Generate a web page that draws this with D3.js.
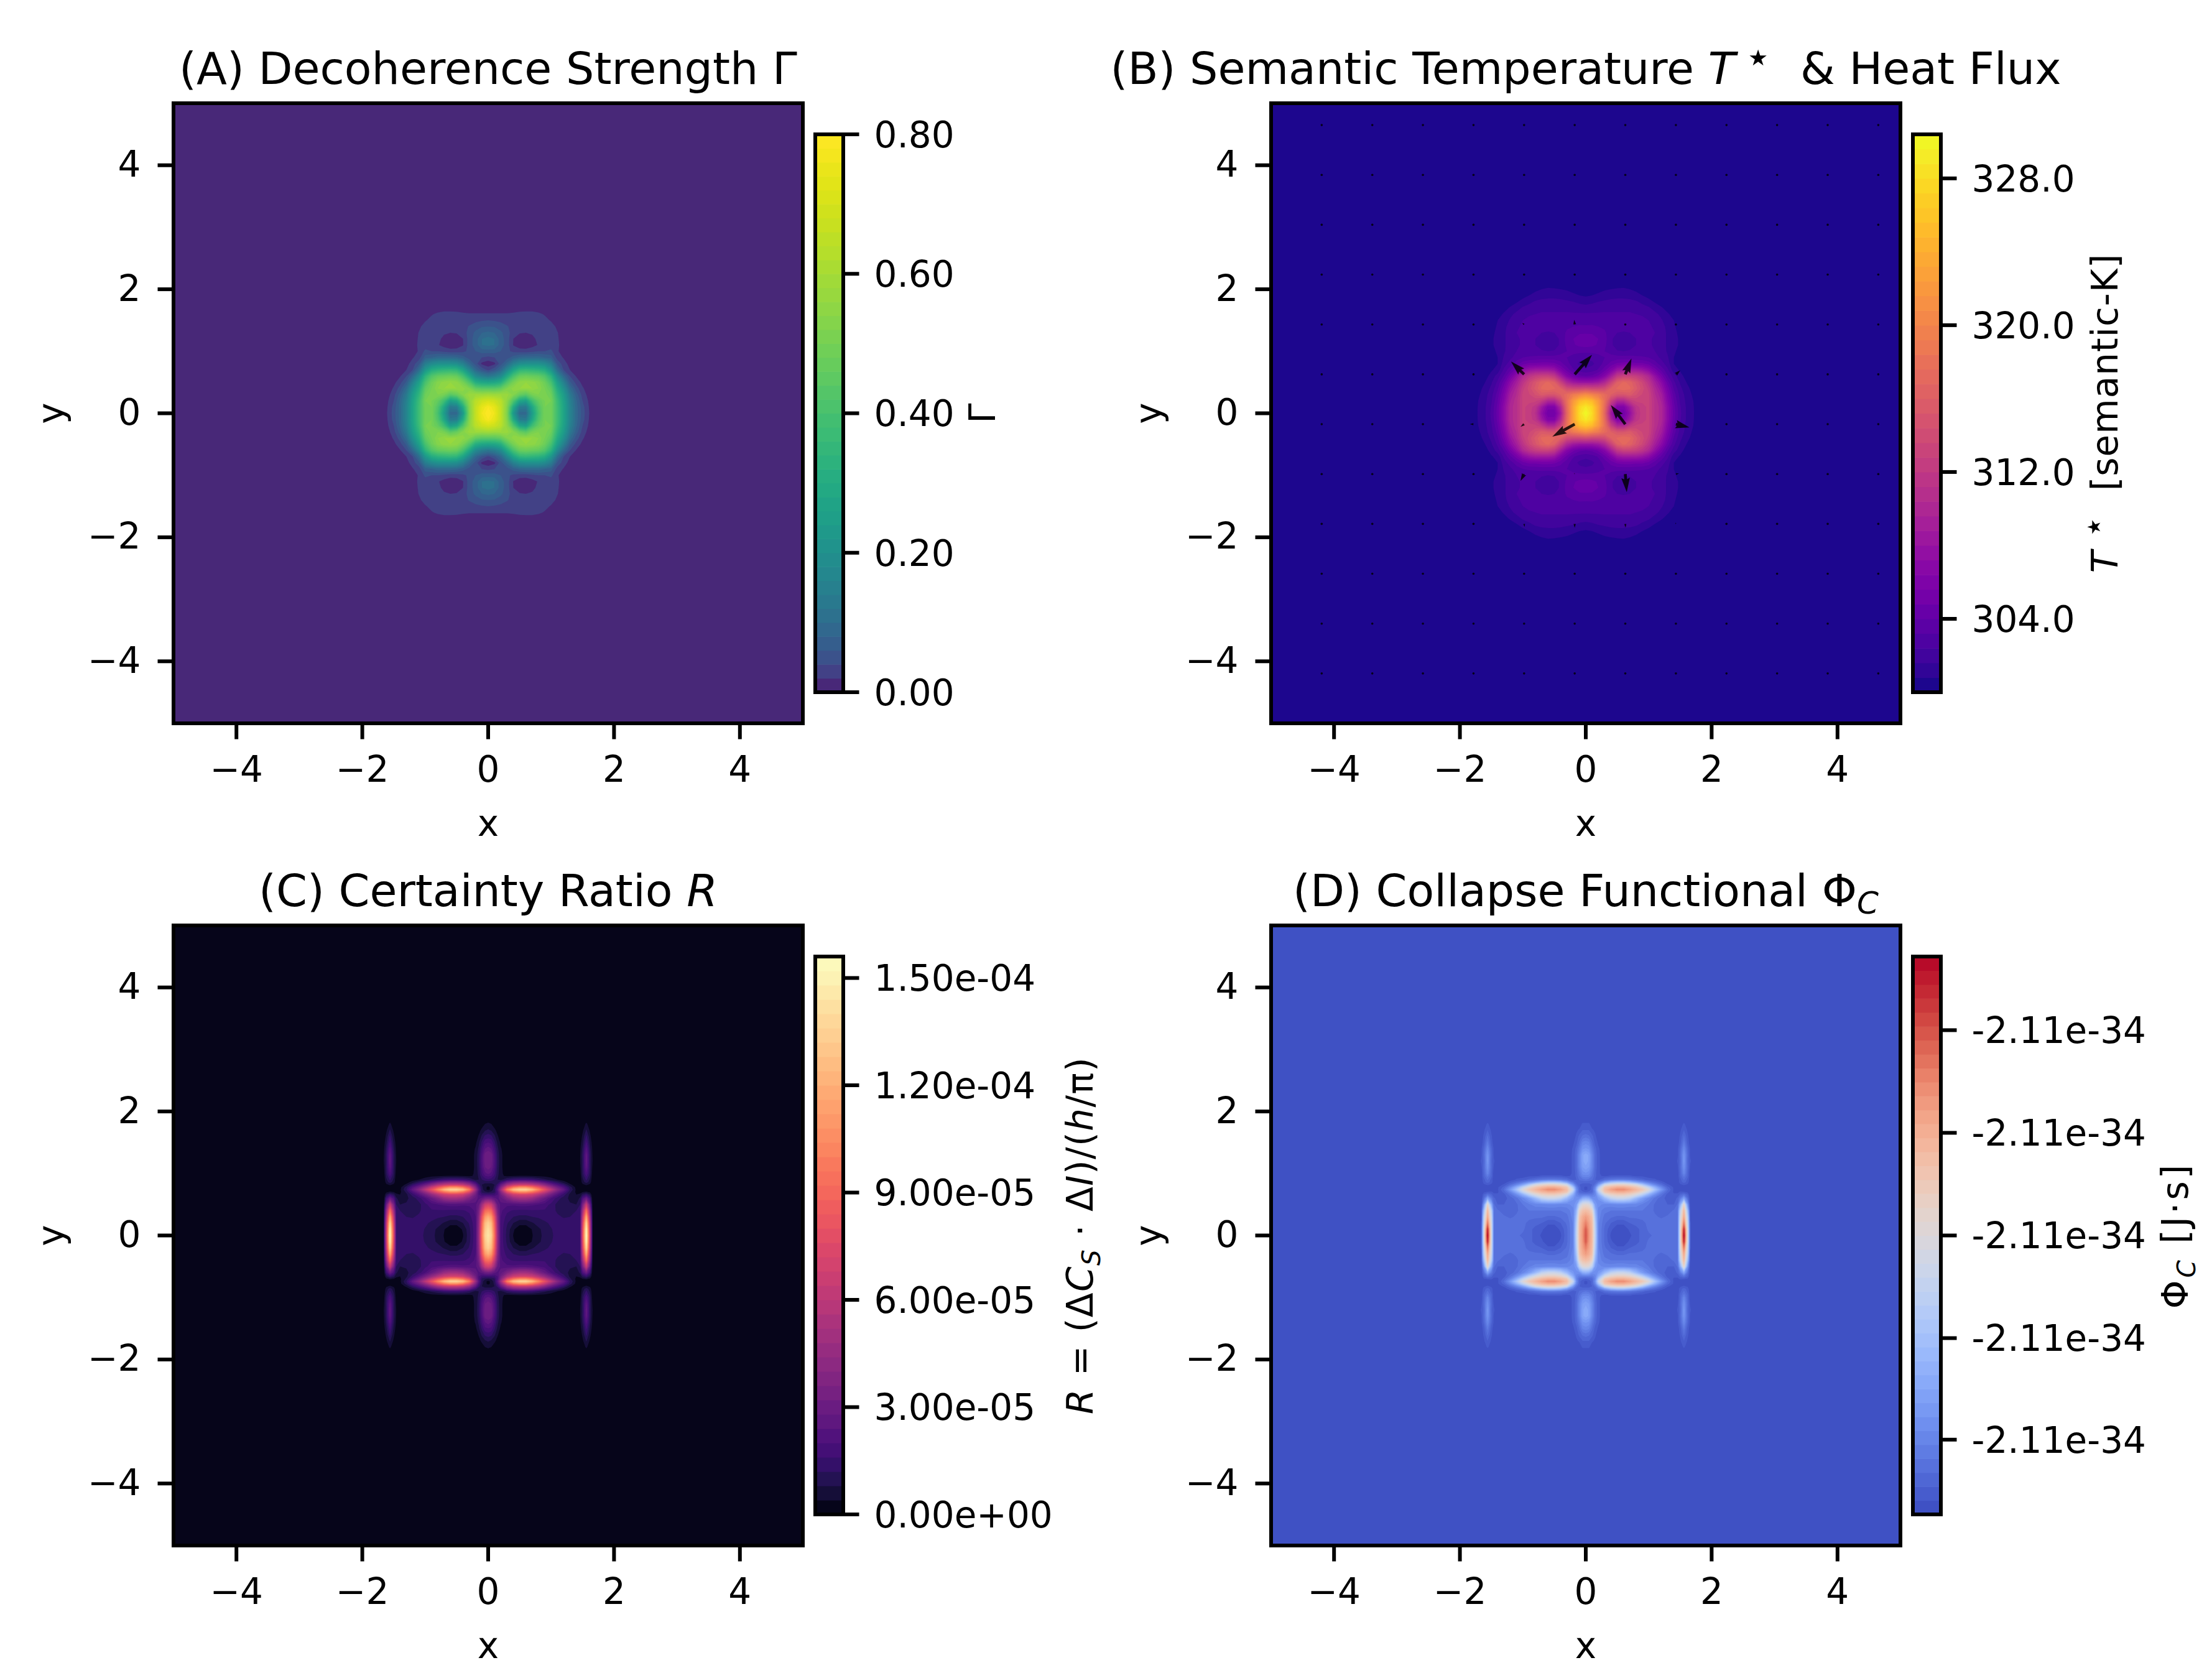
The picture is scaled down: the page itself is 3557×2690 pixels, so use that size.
<!DOCTYPE html>
<html>
<head>
<meta charset="utf-8">
<script src="https://cdn.jsdelivr.net/npm/d3@7"></script>
<style>
body { margin: 0; background: #fff; }
text { font-family: "DejaVu Sans"; fill: #000; }
</style>
</head>
<body>
<script>
"use strict";
// all four maps are symmetric about both axes, so only the quadrant x>=0, y>=0 is listed

// Gamma x 100, one list per x node, y nodes 0, 0.1 ... (short lists end in zeros)
var gammaX = [0, .1, .2, .3, .4, .5, .6, .7, .8, .9, 1, 1.1, 1.2, 1.3, 1.4, 1.5, 1.6, 1.7, 1.8];
var gammaY = [0, .1, .2, .3, .4, .5, .6, .7, .8, .9, 1, 1.1, 1.2, 1.3, 1.4, 1.5, 1.6, 1.7, 1.8];
var gammaColumns = [
    [80, 78, 70, 59, 44, 27, 12, 3.5, .6, 3.5, 7, 10.5, 10.8, 8.5, 6, 4, 2.2, .5],
    [76, 74, 68, 58, 44, 28, 14, 5.5, 1.5, 4, 7, 10, 10, 8, 5.8, 3.8, 2.2, .5],
    [66, 66, 64, 58, 46, 31, 18, 9, 5, 5, 6, 7, 7, 6.5, 5, 3.5, 2.2, .5],
    [52, 53, 55, 57, 52, 42, 29, 17, 9, 5, 4.5, 5, 5, 4.8, 4.2, 3, 2.2, .4],
    [23, 30, 42, 53, 55, 50, 40, 27, 15, 7, 3.5, 1.9, 2, 3, 3.2, 3, 2.4, .6],
    [9, 14, 28, 47, 56, 55, 47, 34, 19, 8.5, 3, .8, .8, 2.2, 3, 3, 2.6, 1],
    [9, 13, 25, 44, 56, 56, 48, 35, 20, 9, 3, .6, .6, 2, 3, 3, 2.6, 1.2],
    [24, 28, 38, 50, 56, 55, 47, 34, 20, 9, 3.5, 1.2, 1.2, 2.4, 3, 3, 2.6, 1.2],
    [40, 42, 46, 52, 54, 53, 46, 33, 20, 9, 4, 2.2, 2.8, 3, 3, 2.8, 2.4, .8],
    [50, 50, 50, 51, 50, 48, 42, 30, 18, 8, 4, 3, 3, 3, 3, 2.6, 1.8, .4],
    [49, 49, 50, 48, 45, 40, 33, 22, 14, 7, 4.5, 3, 3, 3, 2.8, 1.8, .5],
    [38, 38, 37, 34, 30, 25, 18, 10, 5.5, 3, 2.2, 2.2, 2.2, 2.1, 1.6, .6],
    [27, 27, 26, 24, 20, 15, 9, 4, 3, 1.8, 1.2, 1.5, 1.2, 1, .5],
    [16, 16, 15, 13, 10, 6.5, 4, 2, 1.2, 1, .6, .5],
    [9, 9, 8.5, 7, 5, 3.2, 1.8, 1, .5],
    [5, 4.8, 4, 3.2, 2.3, 1.4, .7, .3],
    [2.1, 2, 1.7, 1.2, .8, .4],
    [.5, .4, .2],
    []
];
var gammaTicks = [0, 20, 40, 60, 80];

// T* - 300 K, one list per x node
var tempX = [0, .1, .2, .3, .4, .5, .6, .7, .8, .9, 1, 1.1, 1.2, 1.3, 1.4, 1.5, 1.6, 1.7, 1.8, 1.9];
var tempY = [0, .1, .2, .3, .4, .5, .6, .7, .8, .9, 1, 1.1, 1.2, 1.3, 1.4, 1.5, 1.6, 1.7, 1.8, 1.9, 2, 2.1];
var tempColumns = [
    [30.4, 29, 26, 21, 14, 8, 4, 2.6, 2, 2.6, 3.4, 4.3, 4.5, 3.9, 3.3, 2.8, 2.5, 1.9, 1.3, .7, .2],
    [28, 27.5, 25, 20, 13.5, 8, 4.2, 2.8, 2.2, 2.7, 3.4, 4.2, 4.4, 3.9, 3.3, 2.9, 2.5, 2, 1.4, .8, .3],
    [23, 23, 22, 19, 13.5, 8.5, 5, 3.3, 2.8, 3, 3.4, 3.9, 4, 3.6, 3.2, 2.9, 2.5, 2.1, 1.6, 1, .5, .1],
    [17, 17.5, 18, 17.5, 14, 10, 6.5, 4.5, 3.5, 3.2, 3.2, 3.4, 3.5, 3.3, 3.1, 2.8, 2.5, 2.2, 1.7, 1.2, .7, .1],
    [8.5, 10, 13, 16, 16, 13, 9, 6, 4.3, 3.5, 2.9, 2.6, 2.6, 2.9, 3, 2.8, 2.5, 2.2, 1.8, 1.3, .8, .2],
    [5, 6, 10, 15, 17, 16, 12, 8, 5, 3.5, 2.5, 1.9, 1.9, 2.4, 2.8, 2.8, 2.5, 2.2, 1.8, 1.4, .9, .3],
    [5, 6, 10, 15, 17.5, 17, 13, 8.5, 5.2, 3.5, 2.4, 1.8, 1.8, 2.3, 2.8, 2.8, 2.5, 2.2, 1.8, 1.4, .95, .3],
    [7.5, 8.5, 12, 15.5, 17, 16.5, 13, 8.5, 5.2, 3.5, 2.5, 2, 2, 2.4, 2.8, 2.8, 2.5, 2.2, 1.8, 1.3, .8, .2],
    [11, 11.5, 13, 14.5, 15.5, 15, 12.5, 8.5, 5, 3.4, 2.6, 2.4, 2.4, 2.6, 2.8, 2.7, 2.4, 2.1, 1.7, 1.1, .6, .1],
    [12.5, 12.5, 13, 13.5, 14, 13.5, 11.5, 8, 5, 3.3, 2.7, 2.6, 2.6, 2.7, 2.7, 2.6, 2.3, 1.9, 1.4, .8, .3],
    [13, 13, 13, 13, 12.5, 11.5, 10, 7, 4.5, 3.2, 2.6, 2.5, 2.5, 2.5, 2.5, 2.4, 2.1, 1.7, 1.1, .5, .1],
    [11, 11, 11, 10.5, 10, 9, 7.5, 5.2, 3.6, 2.8, 2.4, 2.3, 2.3, 2.4, 2.3, 2.1, 1.8, 1.3, .7, .2],
    [10, 10, 9.5, 9, 8, 7, 5.3, 3.8, 2.8, 2.2, 2, 1.9, 1.9, 1.9, 1.9, 1.7, 1.4, .9, .4, .05],
    [7, 7, 6.5, 6, 5.3, 4.4, 3.3, 2.6, 2, 1.7, 1.5, 1.5, 1.5, 1.5, 1.4, 1.2, .9, .5, .1],
    [4.4, 4.3, 4, 3.6, 3.1, 2.6, 2, 1.1, .8, .8, .9, 1, 1, 1, .9, .8, .5, .2],
    [2.6, 2.5, 2.3, 2.1, 1.8, 1.5, 1.1, .7, .5, .5, .6, .7, .7, .6, .5, .3, .1],
    [1.5, 1.5, 1.4, 1.3, 1.1, .8, .5, .3, .1, .1, .2, .2, .2, .2, .1],
    [.9, .9, .85, .7, .5, .3, .1],
    [.4, .35, .3, .2, .1],
    []
];
var tempTicks = [4, 12, 20, 28];

// R x 1e5 and Phi (percent of colour range), one list per y node
var ratioX = [0, .05, .1, .15, .2, .3, .4, .5, .6, .7, .8, .9, 1, 1.1, 1.2, 1.3, 1.4, 1.46, 1.5, 1.56, 1.62, 1.66, 1.72, 1.8];
var ratioY = [0, .1, .2, .3, .4, .5, .6, .66, .7, .74, .78, .82, .86, .9, .96, 1, 1.1, 1.2, 1.3, 1.4, 1.5, 1.6, 1.7, 1.8, 1.9];
var ratioRows = [
    [14.5, 13.5, 9.5, 4.5, 1.9, 1.05, .38, .1, .1, .38, .65, .95, 1.15, 1.3, 1.4, 1.4, 1.45, 1.6, 7.5, 15.6, 6, .4, 0, 0],
    [14.2, 13, 9.2, 4.4, 1.9, 1.1, .45, .2, .2, .42, .7, .98, 1.18, 1.3, 1.4, 1.4, 1.45, 1.6, 7.3, 15.2, 5.8, .4, 0, 0],
    [13.5, 12.5, 8.8, 4.2, 1.9, 1.25, .8, .5, .5, .75, 1, 1.15, 1.25, 1.33, 1.4, 1.4, 1.45, 1.6, 6.8, 14, 5.5, .4, 0, 0],
    [12, 11, 8, 3.9, 2, 1.45, 1.2, 1.1, 1.1, 1.2, 1.25, 1.3, 1.35, 1.3, 1.15, 1.2, 1.3, 1.5, 6, 12, 4.8, .35, 0, 0],
    [9.5, 9, 6.4, 3.4, 2.1, 1.7, 1.55, 1.5, 1.5, 1.55, 1.55, 1.55, 1.45, 1.1, 1, 1, 1.2, 1.5, 4.8, 9.5, 4, .3, 0, 0],
    [7, 6.5, 4.8, 2.8, 2.3, 2.1, 2.1, 2.2, 2.2, 2.1, 2, 1.8, 1.5, 1.05, .95, .85, .8, 1.2, 3.4, 6.5, 2.8, .2, 0, 0],
    [3.2, 3, 2.5, 2.3, 2.6, 3.6, 4.6, 5, 5, 4.6, 3.6, 2.8, 2, 1.4, 1, .7, .5, .9, 2, 3, 1.6, .1, 0, 0],
    [1.6, 1.6, 1.6, 2, 3.2, 5.2, 6.6, 7, 7, 6.6, 5.6, 4.4, 3.2, 2.2, 1.4, .7, .4, .5, 1, 1.4, .8, .05, 0, 0],
    [.8, .9, 1.1, 2, 3.8, 7.5, 9.5, 10.5, 10.5, 9.5, 8, 6.3, 4.5, 3, 2, .9, .3, .25, .4, .5, .3, .02, 0, 0],
    [.3, .5, 1, 2.4, 4.8, 10, 12.8, 13.8, 13.8, 12.6, 10.3, 8, 6, 4, 2.7, 1.2, .3, .12, .08, .05, .05, 0, 0, 0],
    [.3, .5, .9, 1.9, 3.7, 7.5, 9.5, 10.5, 10.5, 9.5, 8, 6.3, 4.5, 3.1, 2.1, 1, .25, .1, .1, .1, .1, 0, 0, 0],
    [.6, .6, .8, 1.4, 2.6, 4.8, 6, 6.4, 6.4, 6, 5.2, 4, 2.9, 2, 1.3, .5, .12, .1, .3, .5, .3, .02, 0, 0],
    [1, 1, .95, .9, 1.5, 2.9, 3.7, 4, 4, 3.6, 3, 2.3, 1.6, 1.1, .6, .2, .05, .1, .6, 1, .6, .02, 0, 0],
    [1.5, 1.4, 1.2, .8, .7, 1.2, 1.5, 1.6, 1.6, 1.5, 1.2, .9, .65, .4, .2, .05, 0, .1, .7, 1.3, .7, .1, 0, 0],
    [2.1, 2, 1.5, .9, .45, .35, .4, .42, .42, .4, .35, .3, .2, .1, .05, 0, 0, .15, .9, 1.7, .9, .15, 0, 0],
    [2.5, 2.3, 1.7, .95, .5, .2, .15, .15, .15, .15, .1, .1, .05, 0, 0, 0, 0, .2, 1, 2, 1, .2, 0, 0],
    [3, 2.8, 2, 1.05, .5, .1, 0, 0, 0, 0, 0, 0, 0, 0, 0, 0, 0, .3, 1.05, 2.5, 1.05, .3, 0, 0],
    [3.2, 3, 2.1, 1.1, .5, .1, 0, 0, 0, 0, 0, 0, 0, 0, 0, 0, 0, .4, 1, 2.7, 1, .4, 0, 0],
    [3.2, 3, 2, 1.05, .5, .1, 0, 0, 0, 0, 0, 0, 0, 0, 0, 0, 0, .35, 1.05, 2.6, 1.05, .35, 0, 0],
    [2.6, 2.4, 1.7, .9, .45, .05, 0, 0, 0, 0, 0, 0, 0, 0, 0, 0, 0, .3, .9, 2.2, .9, .3, 0, 0],
    [2, 1.9, 1.3, .7, .3, 0, 0, 0, 0, 0, 0, 0, 0, 0, 0, 0, 0, .2, .7, 1.7, .7, .2, 0, 0],
    [1.4, 1.3, .9, .45, .15, 0, 0, 0, 0, 0, 0, 0, 0, 0, 0, 0, 0, .1, .5, 1.3, .5, .1, 0, 0],
    [.85, .75, .5, .25, .05, 0, 0, 0, 0, 0, 0, 0, 0, 0, 0, 0, 0, .05, .3, .85, .3, .05, 0, 0],
    [.5, .4, .2, .05, 0, 0, 0, 0, 0, 0, 0, 0, 0, 0, 0, 0, 0, 0, .1, .5, .1, 0, 0, 0],
    []
];
var ratioTicks = [0, 3, 6, 9, 12, 15];
var ratioTickLabels = ["0.00e+00", "3.00e-05", "6.00e-05", "9.00e-05", "1.20e-04", "1.50e-04"];

var phiRows = [
    [87, 75, 65, 39, 13, 7, 2, 1, 1, 2, 4, 6, 7, 8, 9, 9, 9, 10, 48, 100, 45, 3, 0, 0],
    [86, 74, 65, 38, 13, 7, 3, 1, 1, 3, 4, 6, 8, 8, 9, 9, 9, 10, 48, 95, 45, 3, 0, 0],
    [79, 72, 64, 36, 13, 8, 5, 3, 3, 5, 6, 7, 8, 9, 9, 9, 9, 10, 47, 81, 41, 3, 0, 0],
    [73, 69, 62, 32, 14, 9, 8, 7, 7, 8, 8, 8, 9, 8, 7, 8, 8, 10, 44, 71, 38, 2, 0, 0],
    [64, 62, 55, 27, 14, 11, 10, 10, 10, 10, 10, 10, 9, 7, 6, 6, 8, 10, 39, 66, 30, 2, 0, 0],
    [52, 50, 40, 20, 16, 14, 14, 15, 15, 14, 14, 12, 10, 7, 6, 5, 5, 8, 25, 55, 18, 1, 0, 0],
    [26, 24, 17, 16, 18, 29, 40, 44, 44, 40, 29, 20, 14, 9, 6, 4, 3, 6, 11, 22, 8, 1, 0, 0],
    [11, 11, 11, 14, 25, 47, 55, 58, 58, 55, 49, 39, 26, 16, 9, 4, 3, 3, 6, 9, 5, 0, 0, 0],
    [5, 6, 7, 14, 34, 60, 65, 68, 68, 65, 60, 52, 40, 24, 13, 6, 2, 2, 3, 3, 2, 0, 0, 0],
    [2, 3, 6, 17, 42, 64, 72, 77, 77, 72, 66, 60, 50, 33, 19, 8, 2, 1, 1, 0, 0, 0, 0, 0],
    [2, 3, 6, 14, 33, 60, 65, 68, 68, 65, 60, 52, 40, 25, 14, 6, 2, 1, 1, 1, 1, 0, 0, 0],
    [4, 4, 5, 9, 19, 44, 52, 55, 55, 52, 47, 35, 22, 14, 8, 3, 1, 1, 2, 3, 2, 0, 0, 0],
    [6, 6, 6, 6, 10, 21, 30, 33, 33, 29, 22, 16, 11, 7, 4, 1, 0, 1, 4, 6, 4, 0, 0, 0],
    [10, 9, 8, 5, 4, 8, 10, 11, 11, 10, 8, 6, 4, 3, 1, 0, 0, 1, 4, 8, 4, 1, 0, 0],
    [14, 14, 10, 6, 3, 2, 3, 3, 3, 3, 2, 2, 1, 1, 0, 0, 0, 1, 6, 11, 6, 1, 0, 0],
    [17, 16, 11, 6, 3, 1, 1, 1, 1, 1, 1, 1, 0, 0, 0, 0, 0, 1, 6, 14, 6, 1, 0, 0],
    [22, 20, 14, 7, 3, 1, 0, 0, 0, 0, 0, 0, 0, 0, 0, 0, 0, 2, 7, 17, 7, 2, 0, 0],
    [24, 22, 14, 7, 3, 1, 0, 0, 0, 0, 0, 0, 0, 0, 0, 0, 0, 3, 6, 19, 6, 3, 0, 0],
    [24, 22, 14, 7, 3, 1, 0, 0, 0, 0, 0, 0, 0, 0, 0, 0, 0, 2, 7, 18, 7, 2, 0, 0],
    [18, 17, 11, 6, 3, 0, 0, 0, 0, 0, 0, 0, 0, 0, 0, 0, 0, 2, 6, 15, 6, 2, 0, 0],
    [14, 13, 8, 4, 2, 0, 0, 0, 0, 0, 0, 0, 0, 0, 0, 0, 0, 1, 4, 11, 4, 1, 0, 0],
    [9, 8, 6, 3, 1, 0, 0, 0, 0, 0, 0, 0, 0, 0, 0, 0, 0, 1, 3, 8, 3, 1, 0, 0],
    [5, 5, 3, 2, 0, 0, 0, 0, 0, 0, 0, 0, 0, 0, 0, 0, 0, 0, 2, 5, 2, 0, 0, 0],
    [3, 3, 1, 0, 0, 0, 0, 0, 0, 0, 0, 0, 0, 0, 0, 0, 0, 0, 1, 3, 1, 0, 0, 0],
    []
];
var phiTicks = [13.4, 31.6, 50, 68.4, 86.8];

// heat flux arrows: grid column, grid row, u, v. the rest of the grid is dots
var fluxGrid = [-5, -4.196, -3.392, -2.588, -1.784, -.98, -.176, .628, 1.432, 2.236, 3.04, 3.844, 4.648];
var fluxArrows = [
    [5, 8, -.03, .024], [6, 8, -.008, .076],
    [5, 7, -.208, .206], [6, 7, .275, .316], [7, 7, .098, .254], [8, 7, .068, .065],
    [4, 6, -.057, 0], [5, 6, -.057, -.041], [6, 6, -.355, -.199], [7, 6, -.23, .31], [8, 6, .215, -.052],
    [5, 5, -.057, -.11], [6, 5, -.008, .017], [7, 5, .023, -.292], [8, 5, .049, .01],
    [5, 4, .008, -.048], [6, 4, 0, -.062], [7, 4, .004, -.058], [8, 4, -.008, .021]
];

var axisTicks = [-4, -2, 0, 2, 4];
var coolwarmStops = ["#3b4cc0", "#6282ea", "#8db0fe", "#b9d0f9", "#dddcdc", "#f5c4ac", "#f49a7b", "#d44e41", "#b40426"];

var TICK_FONT = 58, TITLE_FONT = 71.5, LINE = 6, TICK_LEN = 25.5, TICK_PAD = 27;
var PANEL_W = 1012, PANEL_H = 997;

var svg = d3.select("body").append("svg")
    .attr("width", 3557).attr("height", 2690)
    .attr("viewBox", "0 0 3557 2690");

// parts: [text, "i" italic, "sub"/"sup"/"star"]
function richText(sel, parts) {
    var shift = 0;
    parts.forEach(function (p) {
        var target = p[2] === "sub" ? 12 : p[2] === "sup" ? -24 : p[2] === "star" ? -19 : 0;
        sel.append("tspan")
            .attr("dy", target - shift)
            .attr("font-style", p[1] === "i" ? "italic" : null)
            .attr("font-size", p[2] === "sub" || p[2] === "sup" ? "70%" : null)
            .style("white-space", "pre")
            .text(p[0]);
        shift = target;
    });
}

function mirror(list) {
    return list.slice(1).reverse().map(function (d) { return -d; }).concat(list);
}

function fullGrid(rows, nx) {
    var padded = rows.map(function (r) {
        return d3.range(nx).map(function (i) { return r[i] || 0; });
    });
    var full = padded.slice(1).reverse().concat(padded).map(function (r) {
        return r.slice(1).reverse().concat(r);
    });
    return d3.merge(full);
}

function drawPanel(p) {
    var g = svg.append("g");
    var x = d3.scaleLinear().domain([-5, 5]).range([p.left, p.left + PANEL_W]);
    var y = d3.scaleLinear().domain([-5, 5]).range([p.top + PANEL_H, p.top]);

    var xs = mirror(p.xNodes), ys = mirror(p.yNodes);
    var xIndex = d3.scaleLinear().domain(d3.range(xs.length)).range(xs);
    var yIndex = d3.scaleLinear().domain(d3.range(ys.length)).range(ys);
    var project = d3.geoTransform({
        point: function (cx, cy) {
            this.stream.point(x(xIndex(cx - .5)), y(yIndex(cy - .5)));
        }
    });
    var path = d3.geoPath(project);

    var bands = d3.pairs(p.levels);
    var bandColor = function (i) { return p.color((bands[i][0] + bands[i][1]) / 2); };

    g.append("rect")
        .attr("x", p.left).attr("y", p.top).attr("width", PANEL_W).attr("height", PANEL_H)
        .attr("fill", bandColor(0));

    var contours = d3.contours()
        .size([xs.length, ys.length])
        .thresholds(p.levels.slice(1, -1))(fullGrid(p.rows, p.xNodes.length));

    g.append("g").selectAll("path")
        .data(contours)
        .join("path")
        .attr("d", path)
        .attr("fill", function (d, i) { return bandColor(i + 1); });

    if (p.flux) drawFlux(g, x, y, p);

    g.append("rect")
        .attr("x", p.left).attr("y", p.top).attr("width", PANEL_W).attr("height", PANEL_H)
        .attr("fill", "none").attr("stroke", "#000").attr("stroke-width", LINE);

    var xAxis = d3.axisBottom(x).tickValues(axisTicks).tickSize(TICK_LEN).tickPadding(TICK_PAD).tickSizeOuter(0).offset(0);
    var yAxis = d3.axisLeft(y).tickValues(axisTicks).tickSize(TICK_LEN).tickPadding(TICK_PAD).tickSizeOuter(0).offset(0);
    styleAxis(g.append("g").attr("transform", "translate(0," + (p.top + PANEL_H) + ")").call(xAxis));
    styleAxis(g.append("g").attr("transform", "translate(" + p.left + ",0)").call(yAxis));

    g.append("text").attr("x", p.left + PANEL_W / 2).attr("y", p.top + 1178)
        .attr("text-anchor", "middle").attr("font-size", TICK_FONT).text("x");
    g.append("text")
        .attr("transform", "translate(" + (p.left - 177) + "," + (p.top + PANEL_H / 2) + ") rotate(-90)")
        .attr("text-anchor", "middle").attr("font-size", TICK_FONT).text("y");

    richText(g.append("text").attr("x", p.left + PANEL_W / 2).attr("y", p.top - 31)
        .attr("text-anchor", "middle").attr("font-size", TITLE_FONT), p.title);

    drawColorbar(p, bandColor, bands);
}

function styleAxis(a) {
    a.select(".domain").remove();
    a.selectAll("line").attr("stroke-width", LINE);
    a.selectAll("text").attr("font-size", TICK_FONT).attr("font-family", "DejaVu Sans");
}

function drawFlux(g, x, y, p) {
    var id = "fluxclip";
    svg.append("clipPath").attr("id", id).append("rect")
        .attr("x", p.left).attr("y", p.top).attr("width", PANEL_W).attr("height", PANEL_H);
    var layer = g.append("g").attr("clip-path", "url(#" + id + ")").attr("fill", "#000").attr("opacity", .82);
    var w = 4.6, headLen = 5 * w, headAxis = 4.5 * w, headHalf = 1.5 * w;

    var seen = {};
    fluxArrows.forEach(function (a) { seen[a[0] + "," + a[1]] = true; });
    fluxGrid.forEach(function (gx, col) {
        fluxGrid.forEach(function (gy, row) {
            if (!seen[col + "," + row]) {
                layer.append("circle").attr("cx", x(gx)).attr("cy", y(gy)).attr("r", 1.8);
            }
        });
    });

    var line = d3.line();
    layer.selectAll("path")
        .data(fluxArrows)
        .join("path")
        .attr("d", function (a) {
            var dx = x(a[2]) - x(0), dy = y(a[3]) - y(0);
            var len = Math.hypot(dx, dy), s = Math.min(1, len / headLen);
            var outline = [[0, w / 2 * s], [len - headAxis * s, w / 2 * s], [len - headLen * s, headHalf * s], [len, 0],
                [len - headLen * s, -headHalf * s], [len - headAxis * s, -w / 2 * s], [0, -w / 2 * s]];
            return line(outline.map(function (q) {
                return [x(fluxGrid[a[0]]) + (q[0] * dx - q[1] * dy) / len, y(fluxGrid[a[1]]) + (q[0] * dy + q[1] * dx) / len];
            })) + "Z";
        });
}

function drawColorbar(p, bandColor, bands) {
    var g = svg.append("g");
    var left = p.left + 1032, right = p.left + 1077;
    var top = p.top + 50, bottom = p.top + 947;
    var scale = d3.scaleLinear().domain([p.levels[0], p.levels[p.levels.length - 1]]).range([bottom, top]);

    g.selectAll("rect").data(bands).join("rect")
        .attr("x", left).attr("width", right - left)
        .attr("y", function (d) { return scale(d[1]); })
        .attr("height", function (d) { return scale(d[0]) - scale(d[1]) + .6; })
        .attr("fill", function (d, i) { return bandColor(i); });

    g.append("rect")
        .attr("x", left).attr("y", top).attr("width", right - left).attr("height", bottom - top)
        .attr("fill", "none").attr("stroke", "#000").attr("stroke-width", LINE);

    var axis = d3.axisRight(scale).tickValues(p.ticks).tickFormat(p.tickFormat)
        .tickSize(TICK_LEN).tickPadding(TICK_PAD - 3).tickSizeOuter(0).offset(0);
    var axisG = g.append("g").attr("transform", "translate(" + right + ",0)").call(axis);
    styleAxis(axisG);
    axisG.selectAll("text").attr("dy", ".36em");

    richText(g.append("text")
        .attr("transform", "translate(" + p.labelX + "," + (p.top + PANEL_H / 2) + ") rotate(-90)")
        .attr("text-anchor", "middle").attr("font-size", TICK_FONT)
        .attr("letter-spacing", p.labelSpacing || null), p.label);
}

function powerColor(interp, max, gamma) {
    var norm = d3.scalePow().exponent(gamma).domain([0, max]).range([0, 1]);
    return function (v) { return interp(norm(v)); };
}

drawPanel({
    left: 279, top: 166,
    xNodes: gammaX, yNodes: gammaY, rows: d3.transpose(gammaColumns.map(function (c) {
        return gammaY.map(function (_, i) { return c[i] || 0; });
    })),
    levels: d3.range(41).map(function (i) { return i * 2; }),
    color: powerColor(d3.interpolateViridis, 80, .5),
    ticks: gammaTicks, tickFormat: function (d) { return d3.format(".2f")(d / 100); },
    title: [["(A) Decoherence Strength Γ"]],
    label: [["Γ"]], labelX: 1600
});

drawPanel({
    left: 2044, top: 166, flux: true,
    xNodes: tempX, yNodes: tempY, rows: d3.transpose(tempColumns.map(function (c) {
        return tempY.map(function (_, i) { return c[i] || 0; });
    })),
    levels: d3.range(39).map(function (i) { return i * .8; }),
    color: powerColor(d3.interpolatePlasma, 30.4, .85),
    ticks: tempTicks, tickFormat: function (d) { return d3.format(".1f")(300 + d); },
    title: [["(B) Semantic Temperature "], ["T", "i"], ["\u2009⋆", "", "star"], ["  & Heat Flux"]],
    label: [["T", "i"], [" ⋆", "", "star"], ["  [semantic-K]"]], labelX: 3405, labelSpacing: 1
});

drawPanel({
    left: 279, top: 1488,
    xNodes: ratioX, yNodes: ratioY, rows: ratioRows,
    levels: d3.range(40).map(function (i) { return i * .4; }),
    color: powerColor(d3.interpolateMagma, 15.6, .7),
    ticks: ratioTicks, tickFormat: function (d, i) { return ratioTickLabels[i]; },
    title: [["(C) Certainty Ratio "], ["R", "i"]],
    label: [["R", "i"], [" = (Δ"], ["C", "i"], ["S", "i", "sub"], [" ⋅ Δ"], ["I", "i"], [")/("], ["h", "i"], ["/π)"]],
    labelX: 1757, labelSpacing: 1.5
});

drawPanel({
    left: 2044, top: 1488,
    xNodes: ratioX, yNodes: ratioY, rows: phiRows,
    levels: d3.range(41).map(function (i) { return i * 2.5; }),
    color: function (v) { return d3.interpolateRgbBasis(coolwarmStops)(v / 100); },
    ticks: phiTicks, tickFormat: function () { return "-2.11e-34"; },
    title: [["(D) Collapse Functional Φ"], ["C", "i", "sub"]],
    label: [["Φ"], ["C", "i", "sub"], [" [J·s]"]], labelX: 3518, labelSpacing: 4
});
</script>
</body>
</html>
